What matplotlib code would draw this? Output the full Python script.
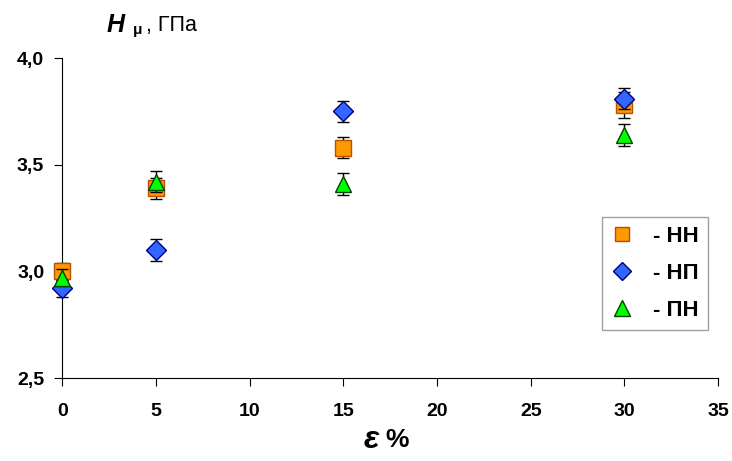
import matplotlib
matplotlib.use('Agg')
import matplotlib.pyplot as plt
from matplotlib.lines import Line2D
from matplotlib.ticker import FuncFormatter

strain = [0, 5, 15, 30]
hn_vals = [3.00, 3.39, 3.58, 3.78]
hn_err = [0.04, 0.05, 0.05, 0.06]
hp_vals = [2.92, 3.10, 3.75, 3.81]
hp_err = [0.04, 0.05, 0.05, 0.05]
pn_vals = [2.97, 3.42, 3.41, 3.64]
pn_err = [0.04, 0.05, 0.05, 0.05]
series_names = ['- НН', '- НП', '- ПН']

plt.rcParams['font.family'] = ['Liberation Sans', 'DejaVu Sans']

fig = plt.figure(figsize=(7.32, 4.61), dpi=100)
ax = fig.add_axes([0.085, 0.18, 0.896, 0.694])

styles = [
    dict(marker='s', ms=11, mfc='#FF9900', mec='#B84E00'),
    dict(marker='D', ms=10, mfc='#3366FF', mec='#000080'),
    dict(marker='^', ms=12, mfc='#00FF00', mec='#004400'),
]
data = [(hn_vals, hn_err), (hp_vals, hp_err), (pn_vals, pn_err)]
for i, ((vals, err), st) in enumerate(zip(data, styles)):
    ax.errorbar(strain, vals, yerr=err, fmt=st['marker'], ms=st['ms'], mfc=st['mfc'],
                mec=st['mec'], mew=1, ecolor='black', elinewidth=1, capsize=4,
                zorder=3 + i, clip_on=False)

ax.set_xlim(0, 35)
ax.set_ylim(2.5, 4.0)
ax.set_xticks(range(0, 36, 5))
ax.set_yticks([2.5, 3.0, 3.5, 4.0])
ax.yaxis.set_major_formatter(FuncFormatter(lambda v, p: f'{v:.1f}'.replace('.', ',')))
ax.spines['top'].set_visible(False)
ax.spines['right'].set_visible(False)
ax.tick_params(direction='out', length=6, labelsize=14)
ax.tick_params(axis='y', pad=7)
ax.tick_params(axis='x', pad=12)
for t in ax.get_xticklabels() + ax.get_yticklabels():
    t.set_fontweight('bold')

# axis titles
fig.text(0.145, 0.945, 'H', fontsize=18, fontweight='bold', style='italic', ha='left', va='center')
fig.text(0.181, 0.935, 'μ', fontsize=11, fontweight='bold', ha='left', va='center')
fig.text(0.200, 0.945, ', ГПа', fontsize=15.5, ha='left', va='center')
fig.text(0.497, 0.045, 'ε', fontsize=23, fontweight='bold', style='italic', ha='left', va='center')
fig.text(0.527, 0.045, '%', fontsize=19, fontweight='bold', ha='left', va='center')

handles = [Line2D([], [], ls='none', marker=st['marker'], ms=st['ms'] - 1, mfc=st['mfc'],
                  mec=st['mec'], mew=1) for st in styles]
leg = ax.legend(handles, series_names, loc='upper left', bbox_to_anchor=(0.823, 0.503),
                fontsize=16, frameon=True, fancybox=False, edgecolor='#888888',
                handletextpad=0.9, borderpad=0.4, labelspacing=0.72, handlelength=1.0,
                borderaxespad=0)
leg.get_frame().set_linewidth(1)
for t in leg.get_texts():
    t.set_fontweight('bold')

fig.savefig('out.png', dpi=100)
